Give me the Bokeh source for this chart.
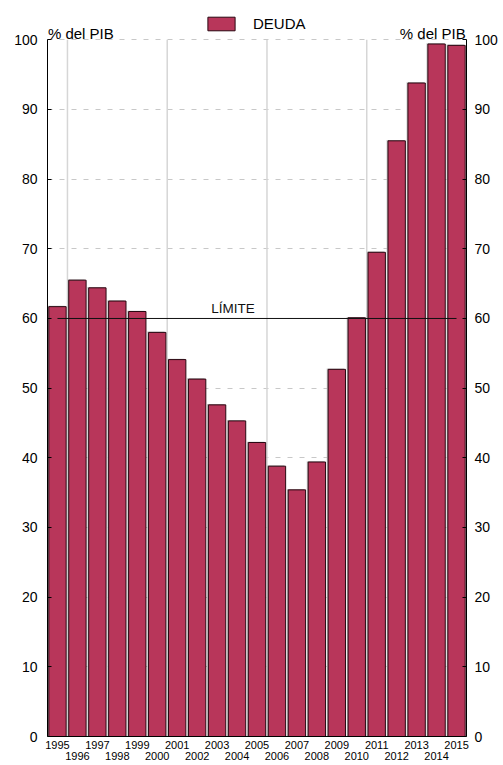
from bokeh.plotting import figure
from bokeh.models import (LinearAxis, FixedTicker, Range1d, Label, Legend, LegendItem)
from bokeh.embed import file_html
from bokeh.resources import INLINE

years = list(range(1995, 2016))
deuda = [61.7, 65.5, 64.4, 62.5, 61.0, 58.0, 54.1, 51.3, 47.6, 45.3, 42.2,
         38.8, 35.4, 39.4, 52.7, 60.1, 69.5, 85.5, 93.8, 99.4, 99.2]
limite = 60
y_ticks = list(range(0, 101, 10))
odd_years = years[::2]
even_years = years[1::2]
grid_years = [1995.5, 2000.5, 2005.5, 2010.5]
serie_label = "DEUDA"
limite_label = "LÍMITE"
unidad = "% del PIB"

FONT = "Liberation Sans"
FW, FH = 419, 736
LEFT = 47
Y_TOP = 105.64          # headroom above 100 for legend and unit labels

p = figure(frame_width=FW, frame_height=FH,
           x_range=Range1d(years[0] - 0.5, years[-1] + 0.5),
           y_range=Range1d(y_ticks[0], Y_TOP),
           output_backend="svg", toolbar_location=None,
           min_border_left=LEFT, min_border_top=0,
           min_border_right=37, min_border_bottom=29)
p.outline_line_color = None
p.background_fill_color = "white"
p.border_fill_color = "white"

# grids
p.ygrid.ticker = FixedTicker(ticks=y_ticks)
p.ygrid.grid_line_color = "#c8c8c8"
p.ygrid.grid_line_dash = "5 7"
p.ygrid.grid_line_width = 1
p.xgrid.visible = False
p.segment(x0=grid_years, y0=[y_ticks[0]] * len(grid_years),
          x1=grid_years, y1=[y_ticks[-1]] * len(grid_years),
          line_color="#d6d6d6", line_width=1.5)

# bar shadow and bars
p.vbar(x=[y - 0.07 for y in years], top=[d + 0.12 for d in deuda], bottom=0,
       width=0.87, fill_color="#c4c4c4", line_color=None)
bars = p.vbar(x=years, top=deuda, bottom=0, width=0.87,
              fill_color="#B8365A", line_color="#2a0812", line_width=1)

p.line(x=[years[0], years[-1]], y=[limite, limite], line_color="#111111", line_width=1)

p.add_layout(Label(x=2003.8, y=61.5, text=limite_label, text_align="center",
                   text_baseline="alphabetic", text_font=FONT,
                   text_font_size="13.5px", text_color="#111111"))

# x axes (two rows)
xa = p.xaxis[0]
xa.ticker = FixedTicker(ticks=odd_years)
xa.major_tick_line_color = None
xa.minor_tick_line_color = None
xa.axis_line_color = "black"
xa.axis_line_width = 1
xa.major_label_standoff = -2
xa.major_label_text_font = FONT
xa.major_label_text_font_size = "11px"
xa.major_label_text_color = "black"
xa.formatter.use_scientific = False

xa2 = LinearAxis(ticker=FixedTicker(ticks=even_years))
xa2.axis_line_color = None
xa2.major_tick_line_color = None
xa2.minor_tick_line_color = None
xa2.major_label_standoff = -6
xa2.major_label_text_font = FONT
xa2.major_label_text_font_size = "11px"
xa2.major_label_text_color = "black"
xa2.formatter.use_scientific = False
p.add_layout(xa2, "below")

# y axes
ya = p.yaxis[0]
ya.ticker = FixedTicker(ticks=y_ticks)
ya.bounds = (y_ticks[0], y_ticks[-1])
ya.major_tick_in = 4
ya.major_tick_out = 0
ya.minor_tick_line_color = None
ya.axis_line_color = "black"
ya.major_label_standoff = 10
ya.major_label_text_font = FONT
ya.major_label_text_font_size = "14px"
ya.major_label_text_color = "black"

ya2 = LinearAxis(ticker=FixedTicker(ticks=y_ticks), bounds=(y_ticks[0], y_ticks[-1]))
ya2.major_tick_in = 4
ya2.major_tick_out = 0
ya2.minor_tick_line_color = None
ya2.axis_line_color = "black"
ya2.major_label_standoff = 8
ya2.major_label_text_font = FONT
ya2.major_label_text_font_size = "14px"
ya2.major_label_text_color = "black"
p.add_layout(ya2, "right")

# unit labels (kept inside the frame so they are not clipped)
p.add_layout(Label(x=years[0] - 0.48, y=100.95, text=unidad, text_align="left",
                   text_baseline="alphabetic", text_font=FONT,
                   text_font_size="15px", text_color="black"))
p.add_layout(Label(x=years[-1] + 0.46, y=100.95, text=unidad, text_align="right",
                   text_baseline="alphabetic", text_font=FONT,
                   text_font_size="15px", text_color="black"))

legend = Legend(items=[LegendItem(label=serie_label, renderers=[bars])],
                location=(157, 704), orientation="horizontal",
                glyph_width=34, glyph_height=17, label_height=17,
                label_standoff=15, padding=0, margin=0, spacing=0,
                border_line_color=None, background_fill_alpha=0,
                label_text_font=FONT, label_text_font_size="15px",
                label_text_color="black")
p.add_layout(legend)

open("out.html", "w").write(file_html(p, INLINE))
